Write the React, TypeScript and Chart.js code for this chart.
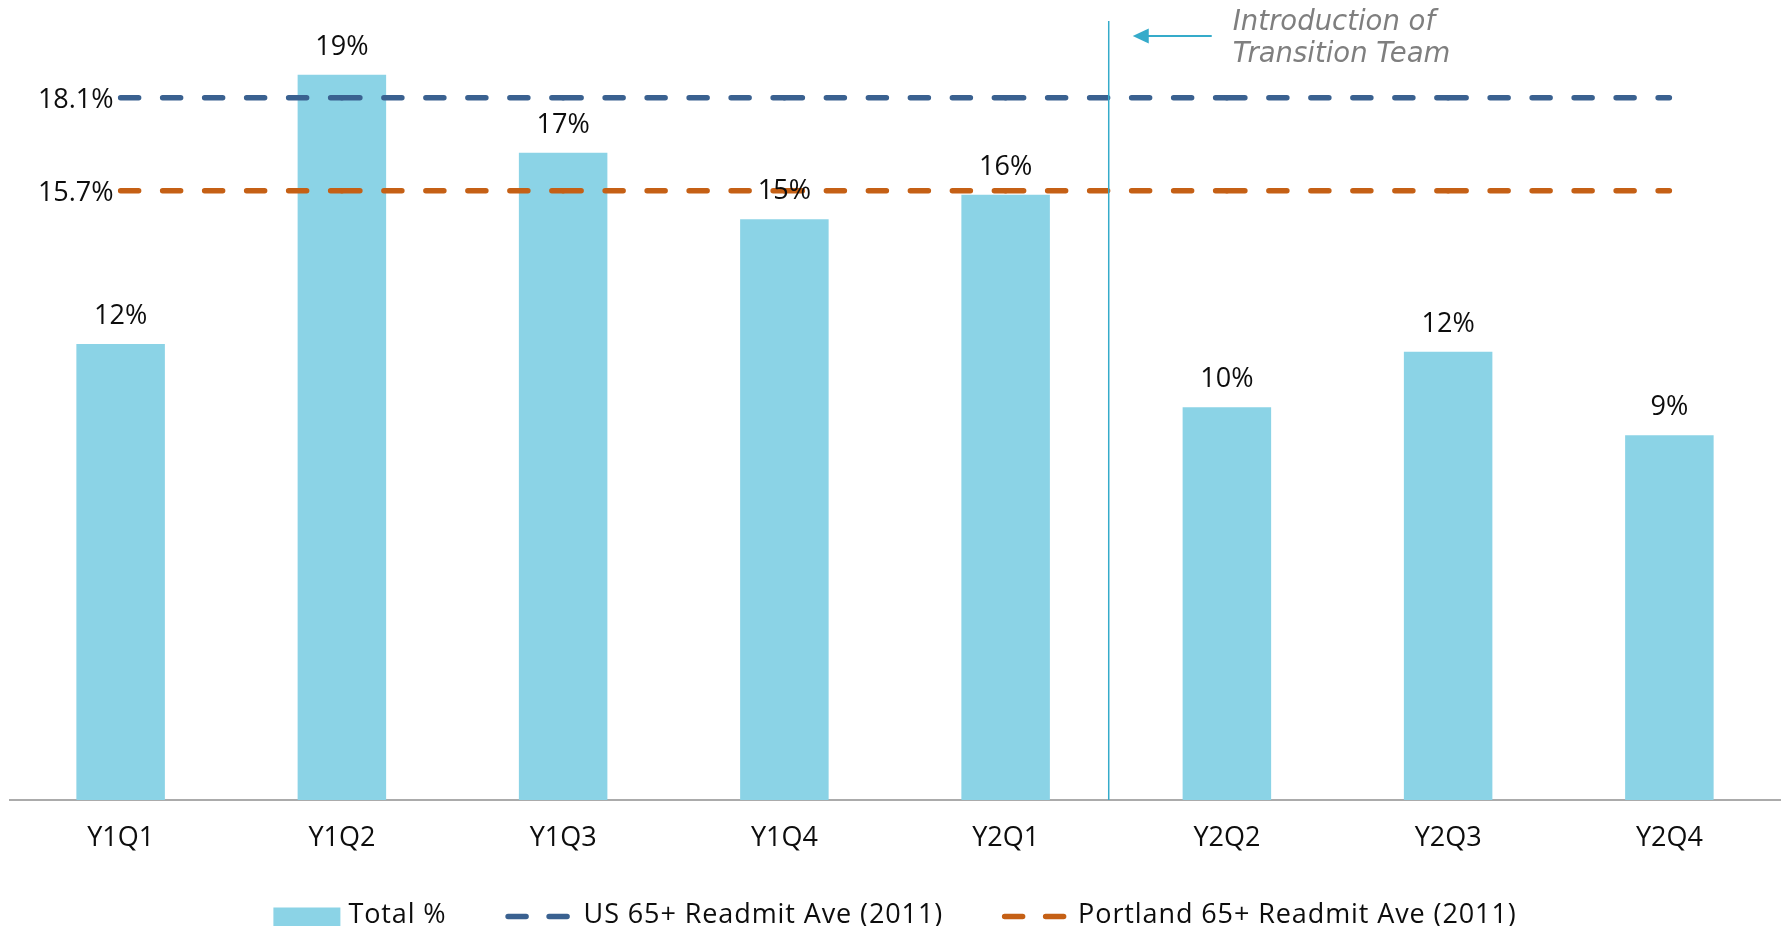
import React, { useEffect, useRef } from "react";
import { Chart, registerables } from "chart.js";

Chart.register(...registerables);

// ---------- data ----------
const categories = ["Y1Q1", "Y1Q2", "Y1Q3", "Y1Q4", "Y2Q1", "Y2Q2", "Y2Q3", "Y2Q4"];
const totalPct = [11.75, 18.69, 16.68, 14.97, 15.6, 10.12, 11.55, 9.4];
const barLabels = ["12%", "19%", "17%", "15%", "16%", "10%", "12%", "9%"];
const usAverage = [18.1, 18.1, 18.1, 18.1, 18.1, 18.1, 18.1, 18.1];
const portlandAverage = [15.7, 15.7, 15.7, 15.7, 15.7, 15.7, 15.7, 15.7];
const referenceLabels = ["18.1%", "15.7%"];
const seriesNames = ["Total %", "US 65+ Readmit Ave (2011)", "Portland 65+ Readmit Ave (2011)"];
const yMin = 0;
const yMax = 20;
const dividerAt = 4.466; // position in category units (between Y2Q1 and Y2Q2)
const annotationLines = ["Introduction of", "Transition Team"];

// ---------- styles ----------
const BAR_COLOR = "#8BD3E6";
const US_COLOR = "#3A6190";
const PORTLAND_COLOR = "#C56015";
const TEAL = "#35ABCA";
const TEXT_COLOR = "#0d0d0d";
const FONT_FAMILY = "'Open Sans'";
const FONT_SIZE = 27;

const overlayPlugin = {
  id: "overlay",
  afterDatasetsDraw(chart: any) {
    const ctx = chart.ctx;
    const xs = chart.scales.x;
    const ys = chart.scales.y;
    const area = chart.chartArea;
    ctx.save();

    // bar value labels
    ctx.font = `${FONT_SIZE}px ${FONT_FAMILY}`;
    ctx.fillStyle = TEXT_COLOR;
    ctx.textAlign = "center";
    ctx.textBaseline = "alphabetic";
    chart.getDatasetMeta(0).data.forEach((el: any, i: number) => {
      ctx.fillText(barLabels[i], el.x, el.y - 20);
    });

    // reference line labels (left of first point)
    ctx.textAlign = "right";
    [1, 2].forEach((di, k) => {
      const p = chart.getDatasetMeta(di).data[0];
      ctx.fillText(referenceLabels[k], p.x - 7, p.y + 10.5);
    });

    // divider line
    const i0 = Math.floor(dividerAt);
    const p0 = xs.getPixelForValue(i0);
    const p1 = xs.getPixelForValue(i0 + 1);
    const dx = p0 + (p1 - p0) * (dividerAt - i0);
    ctx.strokeStyle = TEAL;
    ctx.lineWidth = 1.5;
    ctx.beginPath();
    ctx.moveTo(dx, area.top - 3);
    ctx.lineTo(dx, ys.getPixelForValue(yMin));
    ctx.stroke();

    // arrow
    const ay = area.top + 12;
    ctx.lineWidth = 2.2;
    ctx.beginPath();
    ctx.moveTo(dx + 103, ay);
    ctx.lineTo(dx + 36, ay);
    ctx.stroke();
    ctx.fillStyle = TEAL;
    ctx.beginPath();
    ctx.moveTo(dx + 24, ay);
    ctx.lineTo(dx + 40, ay - 7.5);
    ctx.lineTo(dx + 40, ay + 7.5);
    ctx.closePath();
    ctx.fill();

    // annotation text
    ctx.font = "italic 27.5px 'DejaVu Sans'";
    ctx.fillStyle = "#7F7F7F";
    ctx.textAlign = "left";
    ctx.fillText(annotationLines[0], dx + 124, area.top + 6);
    ctx.fillText(annotationLines[1], dx + 124, area.top + 38);

    ctx.restore();
  },
  afterDraw(chart: any) {
    // legend
    const ctx = chart.ctx;
    const area = chart.chartArea;
    ctx.save();
    ctx.font = `${FONT_SIZE}px ${FONT_FAMILY}`;
    ctx.textBaseline = "alphabetic";
    ctx.textAlign = "left";
    (ctx as any).letterSpacing = "0.9px";
    const items = [
      { kind: "box", color: BAR_COLOR, label: seriesNames[0], mw: 67, gap: 8 },
      { kind: "dash", color: US_COLOR, label: seriesNames[1], mw: 65, gap: 13 },
      { kind: "dash", color: PORTLAND_COLOR, label: seriesNames[2], mw: 65, gap: 11 },
    ];
    const itemGap = 59;
    const widths = items.map((it) => it.mw + it.gap + ctx.measureText(it.label).width);
    const total = widths.reduce((a, b) => a + b, 0) + itemGap * (items.length - 1);
    let x = (area.left + area.right) / 2 - total / 2;
    const base = chart.height - 3.5;
    items.forEach((it, i) => {
      if (it.kind === "box") {
        ctx.fillStyle = it.color;
        ctx.fillRect(x, base - 15, it.mw, 22);
      } else {
        ctx.strokeStyle = it.color;
        ctx.lineWidth = 5.5;
        ctx.lineCap = "round";
        ctx.setLineDash([18, 23]);
        ctx.beginPath();
        ctx.moveTo(x + 2.5, base - 6);
        ctx.lineTo(x + it.mw - 2.5, base - 6);
        ctx.stroke();
        ctx.setLineDash([]);
      }
      ctx.fillStyle = TEXT_COLOR;
      ctx.fillText(it.label, x + it.mw + it.gap, base);
      x += widths[i] + itemGap;
    });
    ctx.restore();
  },
};

const restartDash = (c: any) => ((c.p0DataIndex % 2) ? 0.0001 : 0);

export default function App() {
  const ref = useRef<HTMLCanvasElement | null>(null);

  useEffect(() => {
    if (!ref.current) return;
    Chart.defaults.font.family = FONT_FAMILY;
    const chart = new Chart(ref.current, {
      type: "bar",
      data: {
        labels: categories,
        datasets: [
          {
            type: "bar",
            label: seriesNames[0],
            data: totalPct,
            backgroundColor: BAR_COLOR,
            barPercentage: 0.4,
            categoryPercentage: 1.0,
            order: 2,
          },
          {
            type: "line",
            label: seriesNames[1],
            data: usAverage,
            borderColor: US_COLOR,
            backgroundColor: US_COLOR,
            borderWidth: 5.5,
            borderDash: [18, 24],
            borderCapStyle: "round",
            pointRadius: 0,
            fill: false,
            order: 1,
            segment: { borderDashOffset: restartDash },
          },
          {
            type: "line",
            label: seriesNames[2],
            data: portlandAverage,
            borderColor: PORTLAND_COLOR,
            backgroundColor: PORTLAND_COLOR,
            borderWidth: 5.5,
            borderDash: [18, 24],
            borderCapStyle: "round",
            pointRadius: 0,
            fill: false,
            order: 0,
            segment: { borderDashOffset: restartDash },
          },
        ] as any,
      },
      options: {
        responsive: false,
        animation: false,
        layout: { padding: { top: 24, left: 10, right: 5, bottom: 0 } },
        plugins: {
          legend: { display: false },
          tooltip: { enabled: false },
        },
        scales: {
          x: {
            z: 1,
            grid: { display: false, drawTicks: false },
            border: { display: true, color: "#ABABAB", width: 2 },
            ticks: {
              color: TEXT_COLOR,
              font: { family: FONT_FAMILY, size: FONT_SIZE },
              padding: 22,
              maxRotation: 0,
            },
            afterFit: (axis: any) => {
              axis.height = 126;
            },
          },
          y: {
            display: false,
            min: yMin,
            max: yMax,
          },
        },
      } as any,
      plugins: [overlayPlugin],
    });
    return () => chart.destroy();
  }, []);

  return (
    <div style={{ position: "fixed", left: 0, top: 0, width: 1785, height: 926, background: "#fff" }}>
      <canvas ref={ref} width={1785} height={926} style={{ display: "block" }} />
    </div>
  );
}
